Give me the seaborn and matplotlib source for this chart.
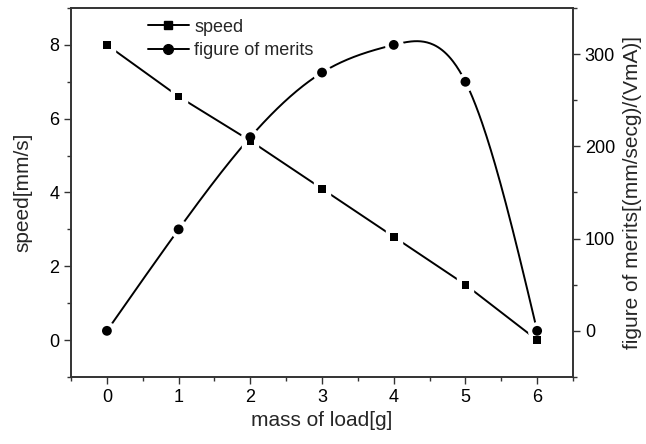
import numpy as np
import pandas as pd
import matplotlib
matplotlib.use("Agg")
import matplotlib.pyplot as plt
from matplotlib.lines import Line2D
import seaborn as sns

# values
mass = [0, 1, 2, 3, 4, 5, 6]
speed = [8.0, 6.6, 5.4, 4.1, 2.8, 1.5, 0.0]
merit = [0, 110, 210, 280, 310, 270, 0]

sns.set_style("ticks")
plt.rcParams["font.family"] = ["Liberation Sans", "DejaVu Sans"]
plt.rcParams["font.size"] = 13


def natural_spline(x, y, n=400):
    # smooth connecting curve through the data points (Origin style "spline" line)
    x = np.asarray(x, float)
    y = np.asarray(y, float)
    k = len(x)
    h = np.diff(x)
    A = np.zeros((k, k))
    r = np.zeros(k)
    A[0, 0] = A[-1, -1] = 1
    for i in range(1, k - 1):
        A[i, i - 1] = h[i - 1]
        A[i, i] = 2 * (h[i - 1] + h[i])
        A[i, i + 1] = h[i]
        r[i] = 6 * ((y[i + 1] - y[i]) / h[i] - (y[i] - y[i - 1]) / h[i - 1])
    m = np.linalg.solve(A, r)
    xs = np.linspace(x[0], x[-1], n)
    idx = np.clip(np.searchsorted(x, xs) - 1, 0, k - 2)
    x0, x1 = x[idx], x[idx + 1]
    hh = x1 - x0
    a = (x1 - xs) / hh
    b = (xs - x0) / hh
    ys = a * y[idx] + b * y[idx + 1] + ((a ** 3 - a) * m[idx] + (b ** 3 - b) * m[idx + 1]) * hh ** 2 / 6
    return xs, ys


df = pd.DataFrame({"mass": mass, "speed": speed, "merit": merit})
xs, ys = natural_spline(mass, merit)
curve = pd.DataFrame({"mass": xs, "merit": ys})

fig = plt.figure(figsize=(6.46, 4.44), dpi=100)
ax = fig.add_axes([0.110, 0.151, 0.777, 0.831])
ax2 = ax.twinx()
ax2.set_ylim(-50, 350)
t2 = ax2.transData  # merit series is drawn on ax but in the right axis' units

# lines
sns.lineplot(data=df, x="mass", y="speed", ax=ax, color="black", lw=1.4, zorder=2)
sns.lineplot(data=curve, x="mass", y="merit", ax=ax, color="black", lw=1.4,
             transform=t2, zorder=2)
# white halos make the little gaps between line and marker
ax.plot(mass, speed, ls="none", marker="s", markersize=11, color="white", zorder=3)
ax.plot(mass, merit, ls="none", marker="o", markersize=12.5, color="white",
        transform=t2, zorder=3)
# markers
sns.scatterplot(data=df, x="mass", y="speed", ax=ax, marker="s", s=30,
                color="black", edgecolor="none", zorder=4)
sns.scatterplot(data=df, x="mass", y="merit", ax=ax, marker="o", s=50,
                color="black", edgecolor="none", transform=t2, zorder=4)

ax.set_xlim(-0.5, 6.5)
ax.set_ylim(-1, 9)
ax2.set_ylim(-50, 350)
ax.set_xticks(range(0, 7))
ax.set_xticks(np.arange(-0.5, 6.6, 0.5), minor=True)
ax.set_yticks([0, 2, 4, 6, 8])
ax.set_yticks([-1, 1, 3, 5, 7, 9], minor=True)
ax2.set_yticks([0, 100, 200, 300])
ax2.set_yticks([-50, 50, 150, 250, 350], minor=True)

for a in (ax, ax2):
    a.tick_params(which="major", direction="out", length=5, width=1, labelsize=13,
                  color="#333333", labelcolor="black")
    a.tick_params(which="minor", direction="out", length=3, width=1, color="#333333")
    for s in a.spines.values():
        s.set_visible(True)
        s.set_color("#333333")
        s.set_linewidth(1.2)

ax.set_xlabel("mass of load[g]", fontsize=15)
ax.set_ylabel("speed[mm/s]", fontsize=15, labelpad=12)
ax2.set_ylabel("figure of merits[(mm/secg)/(VmA)]", fontsize=15, labelpad=6)

handles = [
    Line2D([], [], color="black", lw=1.4, marker="s", markersize=5.5),
    Line2D([], [], color="black", lw=1.4, marker="o", markersize=7),
]
ax.legend(handles, ["speed", "figure of merits"], loc="upper left",
          bbox_to_anchor=(0.12, 1.015), frameon=False, fontsize=13,
          handlelength=2.3, handletextpad=0.3, labelspacing=0.35)

fig.savefig("out.png", dpi=100)
